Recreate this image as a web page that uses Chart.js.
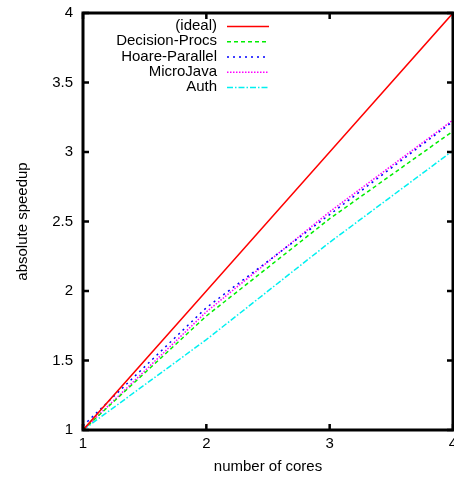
<!DOCTYPE html>
<html>
<head>
<meta charset="utf-8">
<script src="https://cdn.jsdelivr.net/npm/chart.js@4.4.1/dist/chart.umd.min.js"></script>
<style>
  html, body { margin: 0; padding: 0; background: #fff; }
  #wrap { width: 454px; height: 477px; }
</style>
</head>
<body>
<div id="wrap"><canvas id="speedupChart" width="454" height="477"></canvas></div>
<script>
// data
const cores = [1, 2, 3, 4];
const xTickLabels = ['1', '2', '3', '4'];
const yTickLabels = ['1', '1.5', '2', '2.5', '3', '3.5', '4'];
const seriesNames = ['(ideal)', 'Decision-Procs', 'Hoare-Parallel', 'MicroJava', 'Auth'];
const ideal = [1, 2, 3, 4];
const decisionProcs = [1.0, 1.82, 2.52, 3.15];
const hoareParallel = [1.03, 1.88, 2.55, 3.22];
const microJava = [1.0, 1.85, 2.57, 3.23];
const auth = [1.0, 1.65, 2.35, 3.01];

const FONT = '"Liberation Sans", Arial, Helvetica, sans-serif';
Chart.defaults.font.family = FONT;
Chart.defaults.font.size = 15;
Chart.defaults.color = '#000';

const toPoints = ys => cores.map((x, i) => ({ x: x, y: ys[i] }));

function makeSet(label, values, color, dash) {
    return {
        label: label,
        data: toPoints(values),
        borderColor: color,
        backgroundColor: color,
        borderWidth: 1.5,
        borderDash: dash,
        pointRadius: 0,
        tension: 0,
        fill: false
    };
}

// gnuplot style frame: thick box + inward ticks on all four sides
const framePlugin = {
    id: 'gnuplotFrame',
    afterDatasetsDraw(chart) {
        const { ctx, chartArea: a, scales } = chart;
        const tick = 6;
        ctx.save();
        ctx.strokeStyle = '#000';
        ctx.lineWidth = 2.5;
        ctx.beginPath();
        scales.x.ticks.forEach(t => {
            const px = scales.x.getPixelForValue(t.value);
            ctx.moveTo(px, a.bottom); ctx.lineTo(px, a.bottom - tick);
            ctx.moveTo(px, a.top); ctx.lineTo(px, a.top + tick);
        });
        scales.y.ticks.forEach(t => {
            const py = scales.y.getPixelForValue(t.value);
            ctx.moveTo(a.left, py); ctx.lineTo(a.left + tick, py);
            ctx.moveTo(a.right, py); ctx.lineTo(a.right - tick, py);
        });
        ctx.stroke();
        ctx.lineWidth = 3;
        ctx.strokeRect(a.left, a.top, a.right - a.left, a.bottom - a.top);
        ctx.restore();
    },
    afterDraw(chart) {
        // key: right aligned text, sample line on its right
        const { ctx } = chart;
        const textRight = 217, lineStart = 227, lineEnd = 269;
        let y = 26;
        ctx.save();
        ctx.font = '15px ' + FONT;
        ctx.textAlign = 'right';
        ctx.textBaseline = 'middle';
        chart.data.datasets.forEach(ds => {
            ctx.fillStyle = '#000';
            ctx.fillText(ds.label, textRight, y);
            ctx.strokeStyle = ds.borderColor;
            ctx.lineWidth = ds.borderWidth;
            ctx.setLineDash(ds.borderDash || []);
            ctx.beginPath();
            ctx.moveTo(lineStart, y + 0.5);
            ctx.lineTo(lineEnd, y + 0.5);
            ctx.stroke();
            ctx.setLineDash([]);
            y += 15.25;
        });
        ctx.restore();
    }
};

const ctx = document.getElementById('speedupChart').getContext('2d');
new Chart(ctx, {
    type: 'line',
    data: {
        datasets: [
            makeSet(seriesNames[0], ideal, '#ff0000', []),
            makeSet(seriesNames[1], decisionProcs, '#00ee00', [4, 3]),
            makeSet(seriesNames[2], hoareParallel, '#0000ff', [2, 4]),
            makeSet(seriesNames[3], microJava, '#ff00ff', [1.5, 1.5]),
            makeSet(seriesNames[4], auth, '#00f0f0', [6, 2, 1.5, 2])
        ]
    },
    plugins: [framePlugin],
    options: {
        responsive: false,
        devicePixelRatio: 1,
        animation: false,
        events: [],
        layout: { padding: { left: 0, top: 13, right: 1, bottom: 0 } },
        plugins: {
            legend: { display: false },
            tooltip: { enabled: false }
        },
        scales: {
            x: {
                type: 'linear',
                min: 1,
                max: 4,
                grid: { display: false, drawTicks: false },
                border: { display: false },
                ticks: {
                    stepSize: 1,
                    padding: 5,
                    maxRotation: 0,
                    callback: (v, i) => xTickLabels[i]
                },
                title: {
                    display: true,
                    text: 'number of cores',
                    font: { size: 15 },
                    padding: { top: 0, bottom: 1 }
                },
                afterFit(scale) {
                    scale.height = 47;
                    scale.paddingLeft = 0;
                    scale.paddingRight = 0;
                }
            },
            y: {
                min: 1,
                max: 4,
                grid: { display: false, drawTicks: false },
                border: { display: false },
                ticks: {
                    stepSize: 0.5,
                    padding: 10,
                    callback: (v, i) => yTickLabels[i]
                },
                title: {
                    display: true,
                    text: 'absolute speedup',
                    font: { size: 15 },
                    padding: { top: 14, bottom: 0 }
                },
                afterFit(scale) {
                    scale.width = 83;
                    scale.paddingTop = 0;
                    scale.paddingBottom = 0;
                }
            }
        }
    }
});
</script>
</body>
</html>
